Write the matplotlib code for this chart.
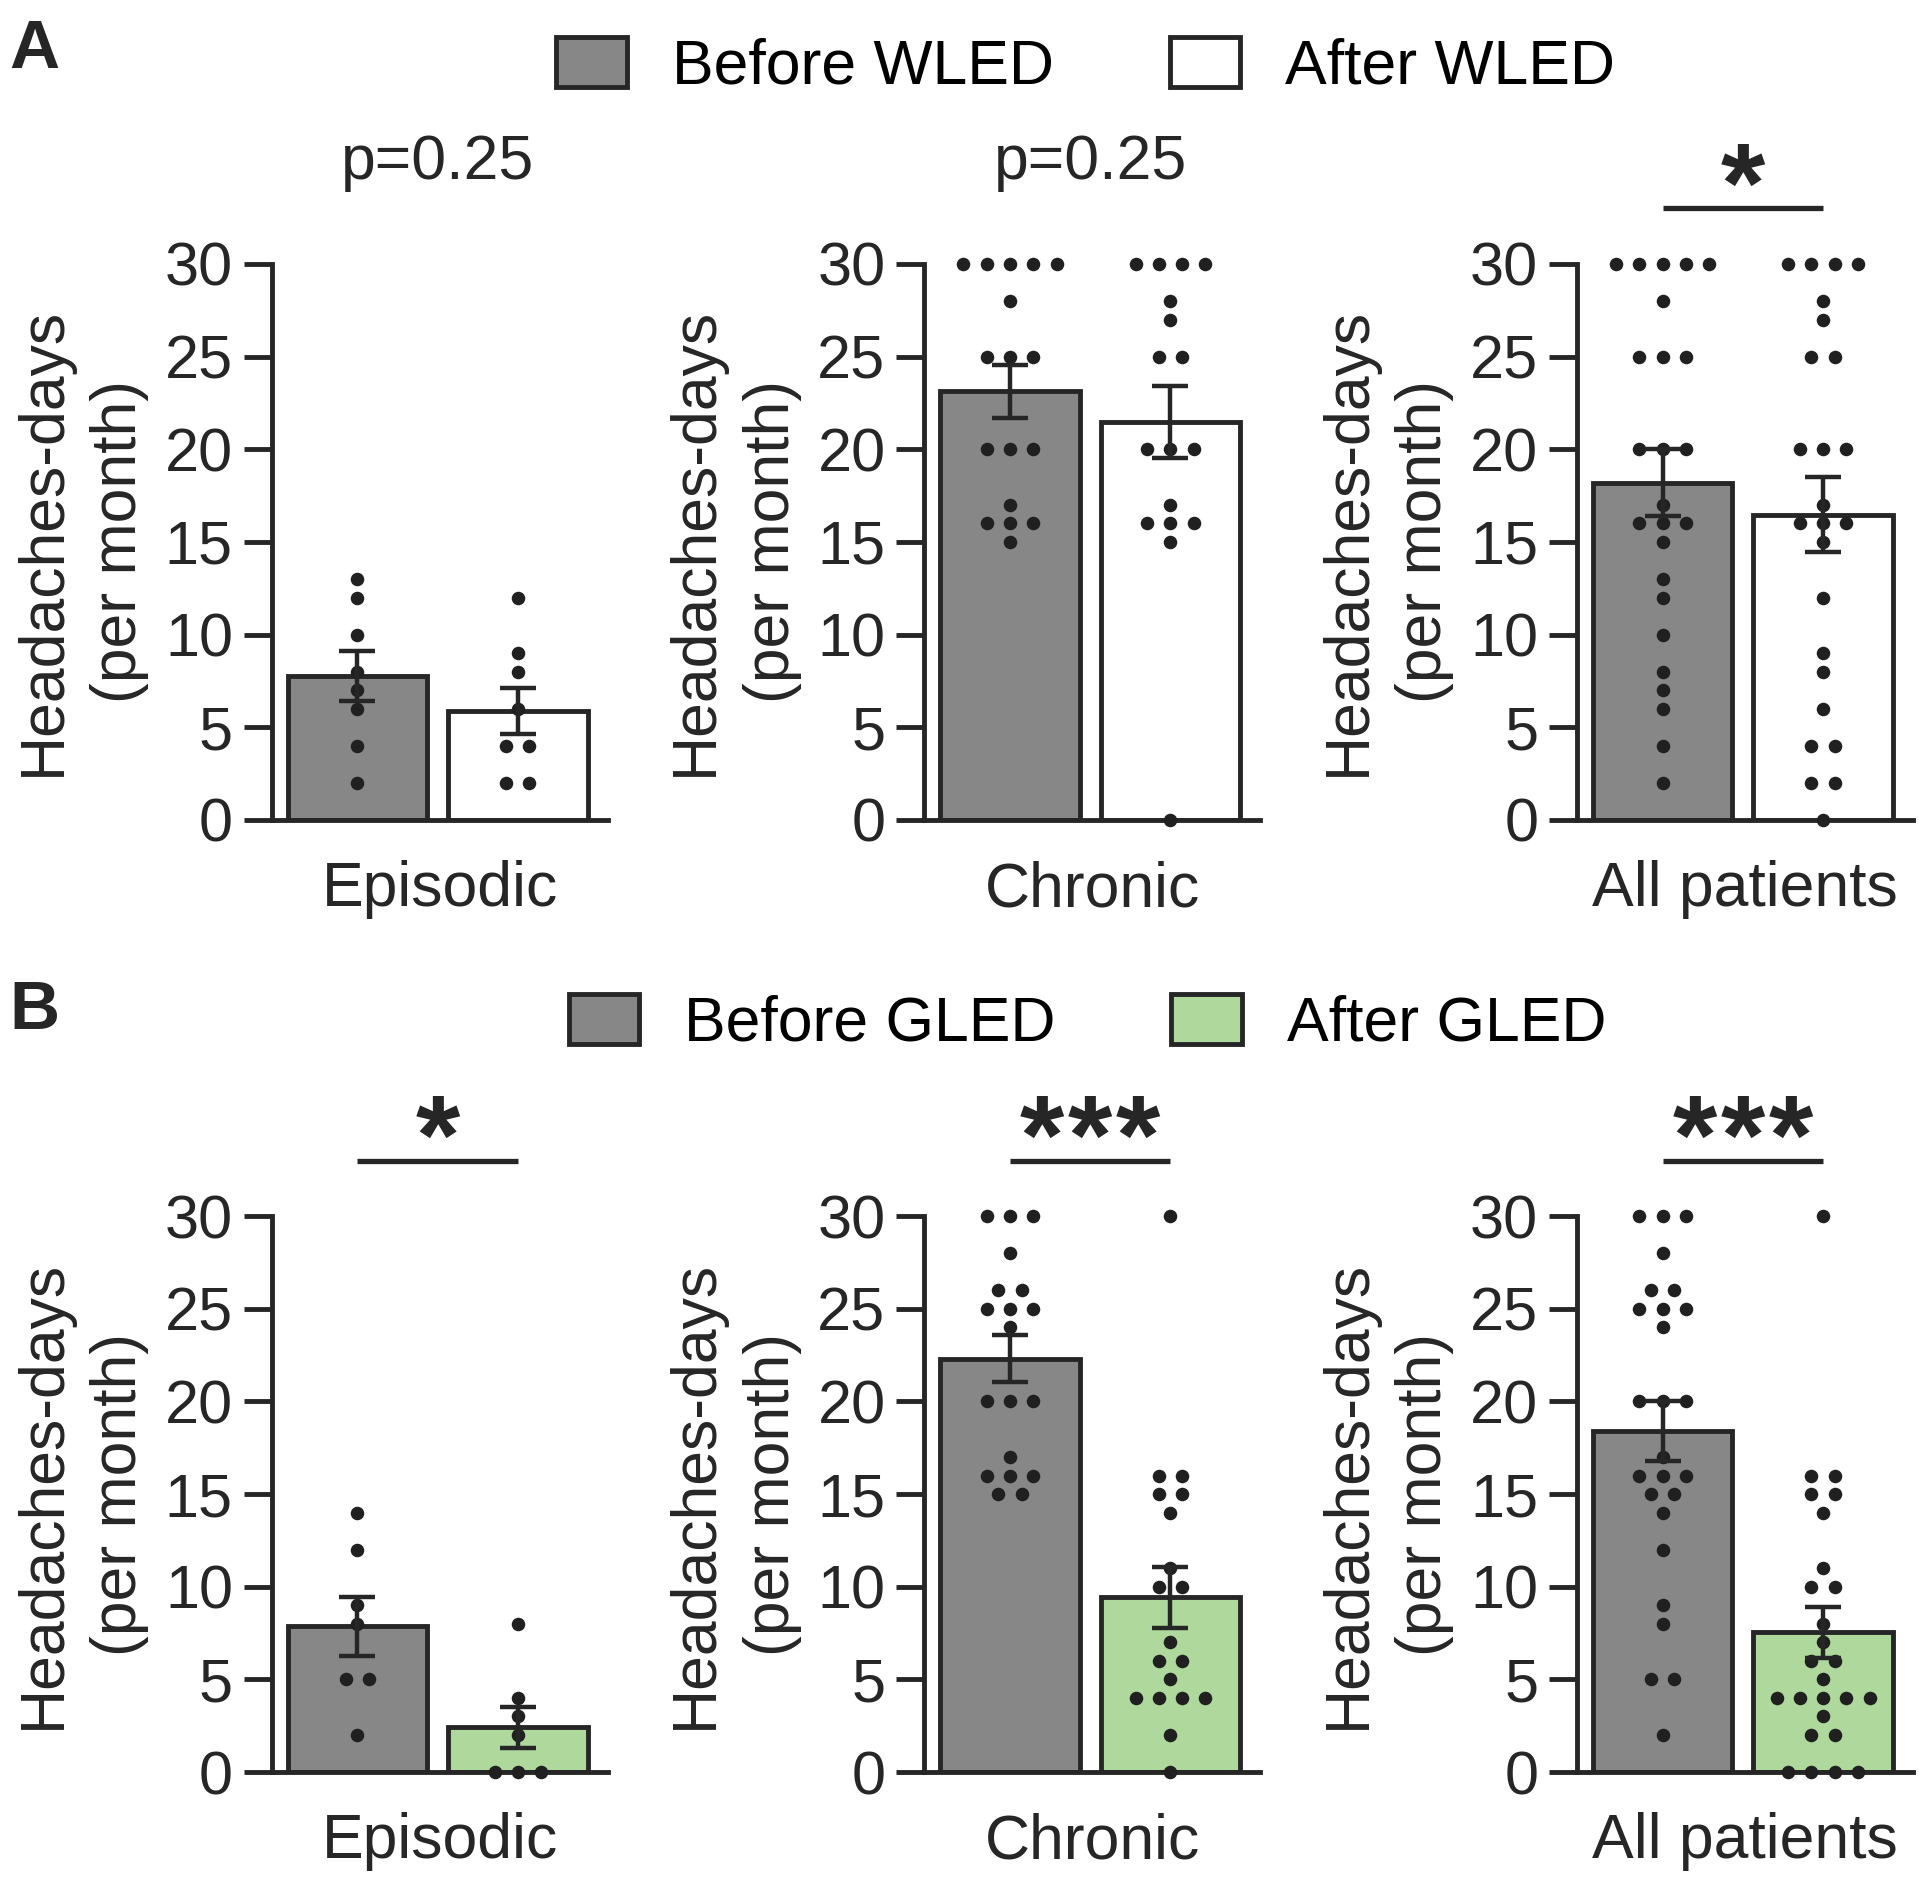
import matplotlib.pyplot as plt
from matplotlib.patches import Patch
import numpy as np

plt.rcParams['font.family'] = ['Liberation Sans', 'DejaVu Sans']

# headache-days per month, one value per patient
wled_episodic_before = [13, 12, 10, 8, 7, 6, 4, 2]
wled_episodic_after = [12, 9, 8, 6, 4, 4, 2, 2]
wled_chronic_before = [30, 30, 30, 30, 30, 28, 25, 25, 25, 20, 20, 20, 17, 16, 16, 16, 15]
wled_chronic_after = [30, 30, 30, 30, 28, 27, 25, 25, 20, 20, 20, 17, 16, 16, 16, 15, 0]

gled_episodic_before = [14, 12, 9, 8, 5, 5, 2]
gled_episodic_after = [8, 4, 3, 2, 0, 0, 0]
gled_chronic_before = [30, 30, 30, 28, 26, 26, 25, 25, 25, 24, 20, 20, 20, 17, 16, 16, 16, 15, 15]
gled_chronic_after = [30, 16, 16, 15, 15, 14, 11, 10, 10, 7, 6, 6, 5, 4, 4, 4, 4, 2, 0]

categories = ['Episodic', 'Chronic', 'All patients']
wled_marks = ['p=0.25', 'p=0.25', '*']
gled_marks = ['*', '***', '***']
yticks = [0, 5, 10, 15, 20, 25, 30]

edge = '#262626'
gray = '#878787'
white = '#ffffff'
green = '#afd99c'

fig = plt.figure(figsize=(19.2, 18.84), dpi=100)

lefts = [0.1416, 0.4815, 0.8214]
W, H = 0.175, 0.2951
bottoms = {'A': 0.5648, 'B': 0.0594}


def swarm_x(vals, center, step=0.145):
    vals = np.asarray(vals)
    xs = np.empty(len(vals))
    for v in np.unique(vals):
        idx = np.where(vals == v)[0]
        n = len(idx)
        xs[idx] = center + (np.arange(n) - (n - 1) / 2) * step
    return xs


def panel(ax, before, after, after_color, label, mark):
    groups = [np.asarray(before, float), np.asarray(after, float)]
    means = [g.mean() for g in groups]
    sems = [g.std(ddof=1) / np.sqrt(len(g)) for g in groups]
    ax.bar([0, 1], means, width=0.87, color=[gray, after_color],
           edgecolor=edge, linewidth=3.5, zorder=1)
    for i, g in enumerate(groups):
        ax.scatter(swarm_x(g, i), g, s=95, color='#202020', zorder=3,
                   clip_on=False, linewidths=0)
    ax.errorbar([0, 1], means, yerr=sems, fmt='none', ecolor=edge,
                elinewidth=3.2, capsize=13, capthick=3.2, zorder=4)

    ax.set_xlim(-0.533, 1.561)
    ax.set_ylim(0, 30)
    ax.set_yticks(yticks)
    ax.set_xticks([])
    for s in ['top', 'right']:
        ax.spines[s].set_visible(False)
    for s in ['left', 'bottom']:
        ax.spines[s].set_linewidth(3.5)
        ax.spines[s].set_color(edge)
    ax.tick_params(axis='y', length=20, width=3.5, color=edge, pad=8,
                   labelsize=44, labelcolor='#262626')
    ax.set_ylabel('Headaches-days\n(per month)', fontsize=45, color='#262626',
                  linespacing=1.38)
    ax.yaxis.set_label_coords(-0.365, 0.5)
    ax.set_xlabel(label, fontsize=45, color='#262626', labelpad=29)

    if mark.startswith('p'):
        ax.text(0.5, 35.5, mark, ha='center', va='center', fontsize=45,
                color='#262626', clip_on=False)
    else:
        ax.plot([0, 1], [33, 33], color=edge, lw=3.8, clip_on=False,
                solid_capstyle='butt')
        n = len(mark)
        for off in (np.arange(n) - (n - 1) / 2) * 0.3:
            ax.text(0.5 + off, 31.0, '*', ha='center', va='bottom', fontsize=82,
                    fontweight='bold', color='#262626', clip_on=False)


wled_sets = [
    (wled_episodic_before, wled_episodic_after),
    (wled_chronic_before, wled_chronic_after),
    (wled_episodic_before + wled_chronic_before, wled_episodic_after + wled_chronic_after),
]
gled_sets = [
    (gled_episodic_before, gled_episodic_after),
    (gled_chronic_before, gled_chronic_after),
    (gled_episodic_before + gled_chronic_before, gled_episodic_after + gled_chronic_after),
]

for i in range(3):
    ax = fig.add_axes([lefts[i], bottoms['A'], W, H])
    panel(ax, wled_sets[i][0], wled_sets[i][1], white, categories[i], wled_marks[i])
    ax = fig.add_axes([lefts[i], bottoms['B'], W, H])
    panel(ax, gled_sets[i][0], gled_sets[i][1], green, categories[i], gled_marks[i])

fig.text(0.005, 0.9907, 'A', fontsize=50, fontweight='bold', va='top', color='#262626')
fig.text(0.005, 0.4805, 'B', fontsize=50, fontweight='bold', va='top', color='#262626')

legend_kw = dict(loc='center', ncol=2, frameon=False, fontsize=45,
                 handlelength=1.13, handleheight=0.85, handletextpad=0.72,
                 columnspacing=1.85, borderpad=0)
hA = [Patch(facecolor=gray, edgecolor=edge, linewidth=3.5),
      Patch(facecolor=white, edgecolor=edge, linewidth=3.5)]
fig.legend(hA, ['Before WLED', 'After WLED'], bbox_to_anchor=(0.5655, 0.9644), **legend_kw)
hB = [Patch(facecolor=gray, edgecolor=edge, linewidth=3.5),
      Patch(facecolor=green, edgecolor=edge, linewidth=3.5)]
fig.legend(hB, ['Before GLED', 'After GLED'], bbox_to_anchor=(0.5664, 0.4565), **legend_kw)

fig.savefig('out.png', dpi=100, facecolor='white')
